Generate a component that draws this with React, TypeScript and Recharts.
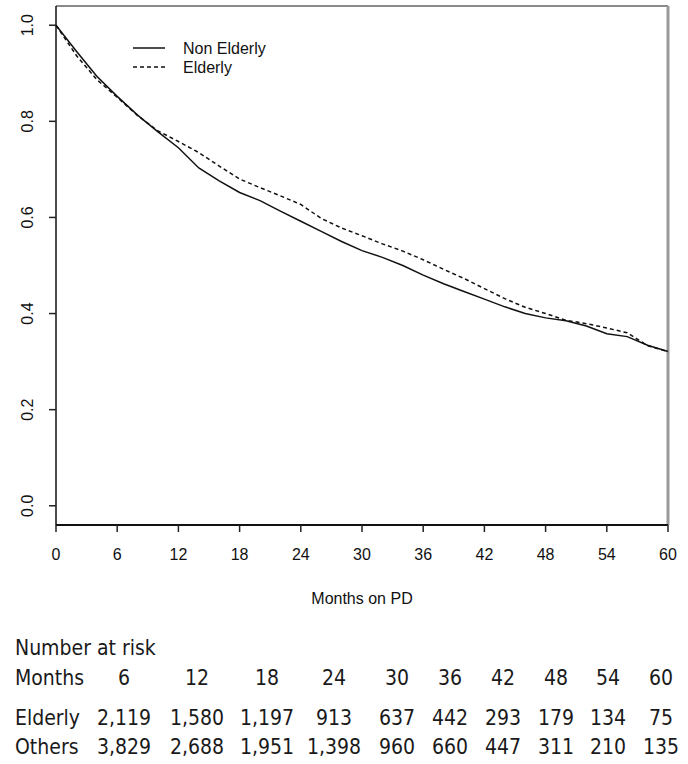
import React from "react";
import { LineChart, Line, XAxis, YAxis, ReferenceLine } from "recharts";

const months = [0, 2, 4, 6, 8, 10, 12, 14, 16, 18, 20, 22, 24, 26, 28, 30, 32, 34, 36, 38, 40, 42, 44, 46, 48, 50, 52, 54, 56, 58, 60];
const nonElderly = [1.0, 0.946, 0.894, 0.852, 0.813, 0.778, 0.745, 0.703, 0.676, 0.652, 0.635, 0.613, 0.592, 0.571, 0.55, 0.531, 0.517, 0.5, 0.48, 0.462, 0.446, 0.43, 0.414, 0.4, 0.391, 0.385, 0.374, 0.358, 0.352, 0.334, 0.321];
const elderly = [1.0, 0.937, 0.887, 0.85, 0.812, 0.78, 0.758, 0.735, 0.707, 0.68, 0.662, 0.645, 0.627, 0.598, 0.578, 0.562, 0.545, 0.53, 0.512, 0.492, 0.473, 0.452, 0.431, 0.413, 0.4, 0.386, 0.379, 0.37, 0.36, 0.333, 0.321];

const xTicks = [0, 6, 12, 18, 24, 30, 36, 42, 48, 54, 60];
const yTicks = [0, 0.2, 0.4, 0.6, 0.8, 1.0];

// number at risk table
const riskMonths = [6, 12, 18, 24, 30, 36, 42, 48, 54, 60];
const riskElderly = [2119, 1580, 1197, 913, 637, 442, 293, 179, 134, 75];
const riskOthers = [3829, 2688, 1951, 1398, 960, 660, 447, 311, 210, 135];

const series = [
  { key: "nonElderly", name: "Non Elderly", dash: undefined as string | undefined },
  { key: "elderly", name: "Elderly", dash: "4 3" },
];

const data = months.map((m, i) => ({ month: m, nonElderly: nonElderly[i], elderly: elderly[i] }));

const axisFont = "'Liberation Sans', Arial, sans-serif";
const tableFont = "'DejaVu Sans Condensed', 'DejaVu Sans', sans-serif";
const colCenters = [124, 197, 267, 334, 397, 450, 503, 556, 608, 661];

const XTick = ({ x, y, payload }: any) => (
  <text x={x} y={y + 26} textAnchor="middle" fontSize={16} fontFamily={axisFont} fill="#111">
    {payload.value}
  </text>
);

const YTick = ({ x, y, payload }: any) => (
  <text
    x={x - 14}
    y={y}
    transform={`rotate(-90, ${x - 14}, ${y})`}
    textAnchor="middle"
    fontSize={16}
    fontFamily={axisFont}
    fill="#111"
  >
    {Number(payload.value).toFixed(1)}
  </text>
);

const XLabel = ({ viewBox }: any) => (
  <text
    x={viewBox.x + viewBox.width / 2}
    y={viewBox.y + 79}
    textAnchor="middle"
    fontSize={16}
    fontFamily={axisFont}
    fill="#111"
  >
    Months on PD
  </text>
);

const ChartLegend = () => (
  <svg width={200} height={44} style={{ position: "absolute", left: 130, top: 38 }}>
    {series.map((s, i) => (
      <g key={s.key}>
        <line x1={3} x2={35} y1={10 + i * 19} y2={10 + i * 19} stroke="#111" strokeWidth={1.5} strokeDasharray={s.dash} />
        <text x={53} y={16 + i * 19} fontSize={16} fontFamily={axisFont} fill="#111">
          {s.name}
        </text>
      </g>
    ))}
  </svg>
);

const cell = (left: number, top: number, text: string, center = true) => (
  <div
    key={`${left}-${top}-${text}`}
    style={{
      position: "absolute",
      left,
      top,
      lineHeight: "24px",
      whiteSpace: "nowrap",
      transform: center ? "translateX(-50%)" : undefined,
    }}
  >
    {text}
  </div>
);

export default function App() {
  const fmt = (v: number) => v.toLocaleString("en-US");
  return (
    <div style={{ position: "absolute", left: 0, top: 0, width: 688, height: 764, background: "#fff" }}>
      <LineChart width={688} height={620} data={data} margin={{ top: 6, right: 20, bottom: 0, left: 0 }}>
        <XAxis
          type="number"
          dataKey="month"
          domain={[0, 60]}
          ticks={xTicks}
          height={95}
          tickSize={7}
          axisLine={{ stroke: "#111", strokeWidth: 2 }}
          tickLine={{ stroke: "#222", strokeWidth: 1.5 }}
          tick={<XTick />}
          label={<XLabel />}
        />
        <YAxis
          type="number"
          domain={[-0.04, 1.04]}
          ticks={yTicks}
          width={56}
          tickSize={7}
          allowDataOverflow
          axisLine={{ stroke: "#111", strokeWidth: 1.5 }}
          tickLine={{ stroke: "#222", strokeWidth: 1.5 }}
          tick={<YTick />}
        />
        <ReferenceLine y={1.04} stroke="#8a8a8a" strokeWidth={2} />
        <ReferenceLine x={60} stroke="#9a9a9a" strokeWidth={3} />
        {series.map((s) => (
          <Line
            key={s.key}
            type="linear"
            dataKey={s.key}
            name={s.name}
            stroke="#111"
            strokeWidth={1.5}
            strokeDasharray={s.dash}
            dot={false}
            isAnimationActive={false}
          />
        ))}
      </LineChart>
      <ChartLegend />
      <div style={{ position: "absolute", left: 0, top: 0, fontFamily: tableFont, fontSize: 21, color: "#1a1a1a" }}>
        {cell(15, 636, "Number at risk", false)}
        {cell(15, 666, "Months", false)}
        {riskMonths.map((m, i) => cell(colCenters[i], 666, String(m)))}
        {cell(15, 706, "Elderly", false)}
        {riskElderly.map((v, i) => cell(colCenters[i], 706, fmt(v)))}
        {cell(15, 735, "Others", false)}
        {riskOthers.map((v, i) => cell(colCenters[i], 735, fmt(v)))}
      </div>
    </div>
  );
}
